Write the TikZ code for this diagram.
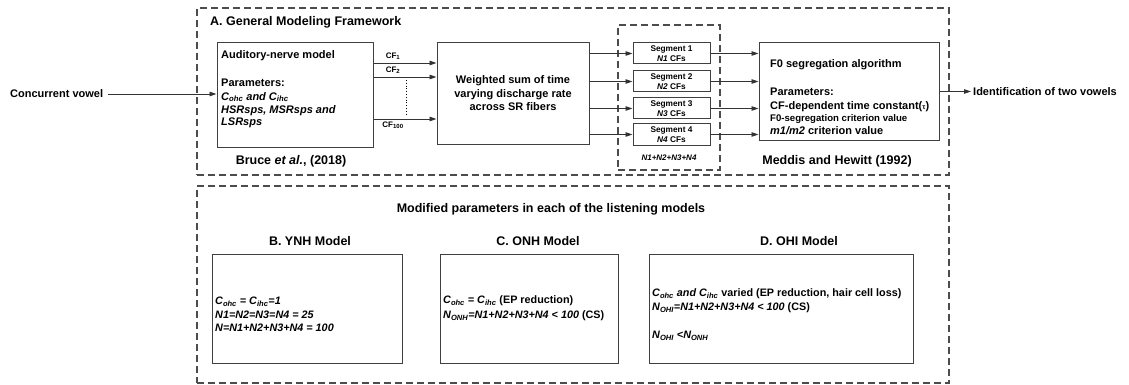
\documentclass[tikz,border=0pt]{standalone}
\usepackage{fontspec}
\setmainfont{Liberation Sans}
\usetikzlibrary{arrows.meta,positioning,calc}
\newcommand{\sbs}[1]{\textsubscript{#1}}
\tikzset{
  x=1pt,y=-1pt,
  >={Triangle[length=7pt,width=4.5pt]},
  modbox/.style={draw=black!75,line width=1pt,inner sep=0pt},
  frame/.style={draw=black!70,line width=1.1pt,dash pattern=on 7pt off 4pt,inner sep=0pt},
  flow/.style={->,line width=0.9pt,black!80},
  txt/.style={font=\fontsize{11}{13.5}\selectfont\bfseries,inner sep=0pt},
  ttl/.style={font=\fontsize{12.5}{15}\selectfont\bfseries,inner sep=0pt},
  prm/.style={font=\fontsize{10.8}{12}\selectfont\bfseries,inner sep=0pt,anchor=west},
  seglbl/.style={font=\fontsize{8.3}{9.5}\selectfont\bfseries,align=center,inner sep=0pt},
  cflbl/.style={font=\fontsize{8}{9}\selectfont\bfseries,inner sep=0pt},
}
\begin{document}
\begin{tikzpicture}
  \useasboundingbox (0,0) rectangle (1129,385);
  % frames
  \node[frame,minimum width=752pt,minimum height=167pt] (frmA) at (573,91.5) {};
  \node[frame,minimum width=752pt,minimum height=197pt] (frmB) at (573,284.5) {};
  \node[frame,minimum width=102pt,minimum height=145pt] (frmseg) at (669,97.5) {};
  \node[ttl,anchor=west] (ttlA) at (210,22) {A. General Modeling Framework};

  % A: processing chain
  \node[txt,anchor=west] (cv) at (10,94) {Concurrent vowel};
  \node[modbox,minimum width=156pt,minimum height=104pt] (an) at (295,95) {};
  \node[txt,anchor=west] (an1) at (221,56) {Auditory-nerve model};
  \node[txt,anchor=west] (an2) at (221,83) {Parameters:};
  \node[txt,anchor=west] (an3) at (221,97) {\textit{C\sbs{ohc} and C\sbs{ihc}}};
  \node[txt,anchor=west] (an4) at (221,111) {\textit{HSRsps, MSRsps and}};
  \node[txt,anchor=west] (an5) at (221,123) {\textit{LSRsps}};
  \node[ttl] (bruce) at (291,161) {Bruce \textit{et al.}, (2018)};

  \node[modbox,minimum width=152pt,minimum height=101pt,txt,align=center] (ws) at (513,93.5)
    {Weighted sum of time\\varying discharge rate\\across SR fibers};

  \draw[flow] ([xshift=5pt]cv.east) -- (cv.east -| an.west);
  \draw[flow] (an.east |- 0,63) -- (ws.west |- 0,63);
  \draw[flow] (an.east |- 0,77) -- (ws.west |- 0,77);
  \draw[flow] (an.east |- 0,119) -- (ws.west |- 0,119);
  \node[cflbl] (cf1) at (393,56) {CF\sbs{1}};
  \node[cflbl] (cf2) at (393,70) {CF\sbs{2}};
  \node[cflbl] (cf100) at (393,125) {CF\sbs{100}};
  \draw[dotted,line width=0.8pt] (406,80) -- (406,115);

  \node[modbox,minimum width=180pt,minimum height=97pt] (f0) at (849,91.5) {};
  \node[txt,anchor=west] (f01) at (770,65) {F0 segregation algorithm};
  \node[txt,anchor=west] (f02) at (770,92) {Parameters:};
  \node[txt,anchor=west] (f03) at (770,107) {CF-dependent time constant({\scriptsize τ})};
  \node[txt,anchor=west,font=\fontsize{9.6}{11}\selectfont\bfseries] (f04) at (770,119) {F0-segregation criterion value};
  \node[txt,anchor=west] (f05) at (770,131) {\textit{m1/m2} criterion value};
  \node[ttl] (meddis) at (837,161) {Meddis and Hewitt (1992)};

  \foreach \i/\yy in {1/53.5,2/81.5,3/108.5,4/134.5}{
    \node[modbox,minimum width=77pt,minimum height=21pt,seglbl] (seg\i) at (671.5,\yy)
      {Segment \i\\\textit{N\i} CFs};
    \draw[flow] (seg\i.west -| ws.east) -- (seg\i.west);
    \draw[flow] (seg\i.east) -- (seg\i.east -| f0.west);
  }
  \node[cflbl] (nsum) at (669,158) {\textit{N1+N2+N3+N4}};

  \node[txt,anchor=west] (out) at (973,91.5) {Identification of two vowels};
  \draw[flow,shorten >=2pt] (f0.east) -- (out.west);

  % B-D: listening models
  \node[ttl] (modp) at (551,209) {Modified parameters in each of the listening models};
  \node[ttl] (ttlB) at (310,241) {B. YNH Model};
  \node[ttl] (ttlC) at (538,241) {C. ONH Model};
  \node[ttl] (ttlD) at (799,241) {D. OHI Model};
  \node[modbox,minimum width=190pt,minimum height=109pt] (ynh) at (307,308.5) {};
  \node[modbox,minimum width=178pt,minimum height=109pt] (onh) at (529,308.5) {};
  \node[modbox,minimum width=264pt,minimum height=109pt] (ohi) at (781,308.5) {};

  \node[prm] (ynh1) at (215,302) {\textit{C\sbs{ohc} = C\sbs{ihc}=1}};
  \node[prm] (ynh2) at (215,315) {\textit{N1=N2=N3=N4 = 25}};
  \node[prm] (ynh3) at (215,328) {\textit{N=N1+N2+N3+N4 = 100}};

  \node[prm] (onh1) at (443,301) {\textit{C\sbs{ohc} = C\sbs{ihc}} (EP reduction)};
  \node[prm] (onh2) at (443,316) {\textit{N\sbs{ONH}=N1+N2+N3+N4 < 100} (CS)};

  \node[prm] (ohi1) at (652,294) {\textit{C\sbs{ohc} and C\sbs{ihc}} varied (EP reduction, hair cell loss)};
  \node[prm] (ohi2) at (652,308) {\textit{N\sbs{OHI}=N1+N2+N3+N4 < 100} (CS)};
  \node[prm] (ohi3) at (652,336) {\textit{N\sbs{OHI} <N\sbs{ONH}}};
\end{tikzpicture}
\end{document}
